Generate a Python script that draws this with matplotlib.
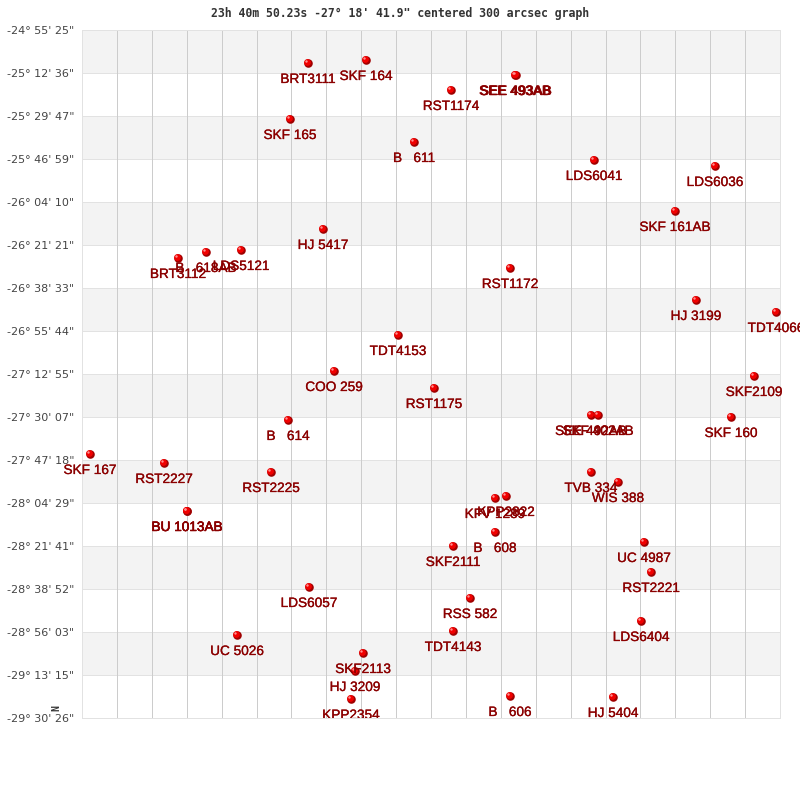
"""Sky chart: double stars around 23h 40m 50.23s -27 18' 41.9", 300 arcsec field."""
import matplotlib
matplotlib.use("Agg")
import matplotlib.pyplot as plt
import matplotlib.patheffects as pe
from matplotlib.transforms import Bbox, ScaledTranslation

TITLE = '23h 40m 50.23s -27\u00b0 18\' 41.9" centered 300 arcsec graph'

DEC_LABELS = [
    '-24\u00b0 55\' 25"', '-25\u00b0 12\' 36"', '-25\u00b0 29\' 47"', '-25\u00b0 46\' 59"',
    '-26\u00b0 04\' 10"', '-26\u00b0 21\' 21"', '-26\u00b0 38\' 33"', '-26\u00b0 55\' 44"',
    '-27\u00b0 12\' 55"', '-27\u00b0 30\' 07"', '-27\u00b0 47\' 18"', '-28\u00b0 04\' 29"',
    '-28\u00b0 21\' 41"', '-28\u00b0 38\' 52"', '-28\u00b0 56\' 03"', '-29\u00b0 13\' 15"',
    '-29\u00b0 30\' 26"',
]

# chart units = position
names = [
    "BRT3111", "SKF 164", "RST1174", "SEE 493AB", "SEE 493AB", "SKF 165", "B   611",
    "LDS6041", "LDS6036", "SKF 161AB", "HJ 5417", "BRT3112", "B   618AB", "LDS5121",
    "RST1172", "HJ 3199", "TDT4066", "TDT4153", "COO 259", "RST1175", "SKF2109",
    "SKF 160", "B   614", "SEE 492AB", "SKF 402AB", "SKF 167", "RST2227", "RST2225",
    "TVB 334", "WIS 388", "BU 1013AB", "BU 1013AB", "KFV 1289", "KPP2822", "B   608",
    "SKF2111", "UC 4987", "RST2221", "LDS6057", "RSS 582", "TDT4143", "LDS6404",
    "UC 5026", "SKF2113", "HJ 3209", "KPP2354", "B   606", "HJ 5404",
]
star_x = [
    308, 366, 451, 515, 516, 290, 414, 594, 715, 675, 323, 178, 206, 241,
    510, 696, 776, 398, 334, 434, 754, 731, 288, 591, 598, 90, 164, 271,
    591, 618, 187, 187, 495, 506, 495, 453, 644, 651, 309, 470, 453, 641,
    237, 363, 355, 351, 510, 613,
]
star_y = [
    63, 60, 90, 75, 75, 119, 142, 160, 166, 211, 229, 258, 252, 250,
    268, 300, 312, 335, 371, 388, 376, 417, 420, 415, 415, 454, 463, 472,
    472, 482, 511, 511, 498, 496, 532, 546, 542, 572, 587, 598, 631, 621,
    635, 653, 671, 699, 696, 697,
]

BAND = "#f3f3f3"
HLINE = "#e2e2e2"
VLINE = "#cccccc"
LABEL = "#8b0000"
TICK = "#444444"

fig = plt.figure(figsize=(8, 8), dpi=100)
ax = fig.add_axes([82 / 800, 82 / 800, 698 / 800, 688 / 800])
ax.set_xlim(82, 780)
ax.set_ylim(718, 30)

ytick_pos = [30 + 43 * i for i in range(len(DEC_LABELS))]
xtick_pos = [82 + 34.9 * i for i in range(1, 20)]

for i in range(0, len(DEC_LABELS) - 1, 2):
    ax.axhspan(ytick_pos[i], ytick_pos[i + 1], color=BAND, lw=0, zorder=0)
for y in ytick_pos:
    ax.axhline(y, color=HLINE, lw=0.72, zorder=1)
for x in xtick_pos:
    ax.axvline(x, color=VLINE, lw=0.72, zorder=1)

ax.set_yticks(ytick_pos, DEC_LABELS, fontsize=8, color=TICK, family="DejaVu Sans")
ax.set_xticks([])
ax.tick_params(axis="y", length=0, pad=5.5)
for s in ax.spines.values():
    s.set_color(HLINE)
    s.set_linewidth(0.72)

# red ball: dark body, bright core shifted up-left, small highlight
shift = ScaledTranslation(-0.6 / 72, 0.6 / 72, fig.dpi_scale_trans)
ax.scatter(star_x, star_y, s=38, color="#a00000", linewidths=0, zorder=3, clip_on=False)
ax.scatter(star_x, star_y, s=24, color="#f00000", linewidths=0, zorder=4, clip_on=False,
           transform=ax.transData + shift)
ax.scatter(star_x, star_y, s=3, color="#ff9090", linewidths=0, zorder=4, clip_on=False,
           transform=ax.transData + ScaledTranslation(-1.2 / 72, 1.2 / 72, fig.dpi_scale_trans))

clip = Bbox([[0, 82], [800, 800]])  # labels get cut at the plot's bottom edge
for name, x, y in zip(names, star_x, star_y):
    t = ax.text(x, y, name, ha="center", va="center", color=LABEL, fontsize=9.8,
                family="Liberation Sans", zorder=5, clip_on=True,
                transform=ax.transData + ScaledTranslation(0, -16 / 100, fig.dpi_scale_trans),
                path_effects=[pe.withStroke(linewidth=0.2, foreground=LABEL)])
    t.set_clip_box(clip)

fig.text(400 / 800, 1 - 13 / 800, TITLE, ha="center", va="center", fontsize=8.3,
         family="DejaVu Sans Mono", weight="bold", color="#333333")
fig.text(56 / 800, 1 - 708 / 800, "N", ha="center", va="center", rotation=90,
         fontsize=7, family="DejaVu Sans Mono", weight="bold", color="#333333")

fig.savefig("out.png", dpi=100)
